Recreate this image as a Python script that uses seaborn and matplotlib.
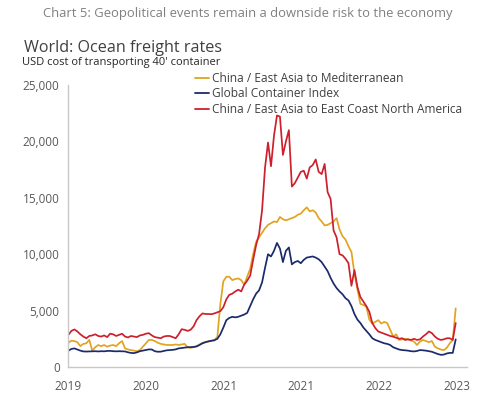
import numpy as np
import pandas as pd
import matplotlib
matplotlib.use("Agg")
import matplotlib.pyplot as plt
import seaborn as sns
from matplotlib.lines import Line2D

# ---- data (biweekly observations, Jan 2019 - Dec 2023) ----
start_date = "2019-01-03"
series_names = ["China / East Asia to Mediterranean",
                "Global Container Index",
                "China / East Asia to East Coast North America"]

mediterranean = [
    2150, 2330, 2300, 2200, 1850, 2050, 2100, 2400, 1450, 1750,
    1950, 1850, 1950, 1800, 1900, 1950, 1850, 2100, 2300, 1650,
    1550, 1500, 1450, 1400, 1500, 1800, 2100, 2400, 2400, 2300,
    2150, 2050, 2000, 1950, 1950, 1950, 2000, 1950, 2000, 2050,
    1750, 1700, 1750, 1850, 2000, 2150, 2200, 2250, 2300, 2350,
    2700, 5600, 7600, 8000, 8000, 7700, 7800, 7850, 7700, 7300,
    8000, 8700, 10000, 11100, 11500, 11900, 12300, 12600, 12750, 12900,
    12850, 13300, 13100, 13000, 13100, 13200, 13300, 13500, 13600, 13900,
    14150, 13800, 13900, 13700, 13200, 12900, 12550, 12600, 12750, 12900,
    13200, 12200, 11600, 11300, 10700, 10200, 8300, 6900, 5600, 5500,
    5350, 4200, 3850, 4000, 4150, 3850, 4000, 3900, 3300, 2700,
    2900, 2400, 2450, 2500, 2450, 2350, 2250, 1950, 2250, 2400,
    2300, 2200, 2300, 1800, 1650, 1550, 1500, 1700, 2100, 2400,
    5200,
]

global_index = [
    1450, 1600, 1650, 1550, 1450, 1380, 1370, 1380, 1390, 1400,
    1380, 1400, 1390, 1420, 1430, 1400, 1390, 1400, 1390, 1380,
    1300, 1250, 1230, 1300, 1400, 1450, 1500, 1560, 1550, 1400,
    1350, 1360, 1420, 1480, 1500, 1520, 1560, 1650, 1680, 1720,
    1750, 1760, 1780, 1820, 1950, 2100, 2200, 2280, 2330, 2380,
    2500, 2900, 3500, 4150, 4350, 4450, 4400, 4450, 4550, 4650,
    4800, 5400, 6000, 6500, 6800, 7500, 8800, 10000, 9800, 10300,
    11000, 10500, 9300, 10300, 10600, 9100, 9300, 9400, 9200, 9500,
    9700, 9750, 9800, 9700, 9550, 9300, 8900, 8500, 7900, 7400,
    7000, 6700, 6450, 6100, 5900, 5400, 4700, 4200, 3900, 3500,
    3200, 2900, 2550, 2400, 2300, 2200, 2100, 2050, 1950, 1750,
    1650, 1550, 1500, 1480, 1450, 1400, 1380, 1420, 1500, 1480,
    1450, 1400, 1350, 1250, 1150, 1080, 1100, 1200, 1250, 1250,
    2450,
]

east_coast_na = [
    2850, 3200, 3330, 3150, 2900, 2700, 2550, 2750, 2800, 2900,
    2750, 2700, 2800, 2650, 2950, 2900, 2750, 2850, 2950, 2700,
    2620, 2750, 2700, 2650, 2800, 2850, 2950, 3000, 2800, 2650,
    2600, 2550, 2700, 2750, 2750, 2650, 2550, 2900, 3350, 3300,
    3200, 3300, 3600, 4150, 4500, 4750, 4700, 4700, 4680, 4750,
    4850, 4950, 5300, 6000, 6400, 6500, 6700, 6850, 6700, 7300,
    7650, 8100, 9500, 10800, 11800, 13900, 17700, 19900, 17800, 20500,
    22300, 22200, 18800, 20000, 21000, 16000, 16300, 16800, 17300, 17400,
    16700, 17700, 17900, 18400, 17300, 17100, 18000, 15500, 14900, 12100,
    11500, 10000, 9900, 9600, 9200, 7200, 8600, 7100, 6200, 5800,
    5400, 4900, 3900, 3450, 3150, 3050, 2950, 2850, 2750, 2690,
    2600, 2500, 2550, 2400, 2450, 2400, 2500, 2400, 2450, 2700,
    2900, 3150, 3000, 2700, 2500, 2400, 2450, 2550, 2550, 2400,
    3900,
]

tick_years = ["2019", "2020", "2021", "2022", "2023", "2024"]
tick_labels = ["2019", "2020", "2021", "2021", "2022", "2023"]

colors = ["#E2A320", "#1B2A6B", "#CE1F2C"]

# ---- build long table ----
dates = pd.date_range(start_date, periods=len(global_index), freq="14D")
frames = []
for name, vals in zip(series_names, [mediterranean, global_index, east_coast_na]):
    frames.append(pd.DataFrame({"date": dates, "value": vals, "series": name}))
df = pd.concat(frames, ignore_index=True)

sns.set_theme(style="white")
plt.rcParams["font.family"] = ["Open Sans", "DejaVu Sans"]

fig = plt.figure(figsize=(4.83, 4.07), dpi=100)
ax = fig.add_axes([68 / 483, 40 / 407, 399 / 483, 282 / 407])

sns.lineplot(data=df, x="date", y="value", hue="series",
             hue_order=series_names, palette=colors, linewidth=1.25, ax=ax,
             legend=False)

ax.set_ylim(0, 25000)
ax.set_xlim(pd.Timestamp("2019-01-01"), pd.Timestamp("2024-02-19"))
yt = [0, 5000, 10000, 15000, 20000, 25000]
ax.set_yticks(yt)
ax.set_yticklabels([f"{v:,}" for v in yt])
ax.set_xticks([pd.Timestamp(f"{y}-01-01") for y in tick_years])
ax.set_xticklabels(tick_labels)
ax.set_xlabel("")
ax.set_ylabel("")

for s in ["top", "right"]:
    ax.spines[s].set_visible(False)
for s in ["left", "bottom"]:
    ax.spines[s].set_color("#c8c8c8")
    ax.spines[s].set_linewidth(1.0)
ax.tick_params(axis="both", colors="#c8c8c8", labelcolor="#595959",
               labelsize=8.5, length=4, width=1.0, direction="out")
ax.tick_params(axis="x", pad=5)
ax.tick_params(axis="y", pad=2)

handles = [Line2D([0], [0], color=c, linewidth=1.3) for c in colors]
leg = fig.legend(handles, series_names, loc="upper left",
                 bbox_to_anchor=(195 / 483, 1 - 72 / 407), frameon=False,
                 handlelength=1.2, handletextpad=0.25, labelspacing=0.2,
                 fontsize=8.6, borderaxespad=0, borderpad=0)
for t in leg.get_texts():
    t.set_color("#404040")

fig.text(248 / 483, 1 - 13 / 407,
         "Chart 5: Geopolitical events remain a downside risk to the economy",
         ha="center", va="center", fontsize=9.4, color="#808080")
fig.text(24 / 483, 1 - 48 / 407, "World: Ocean freight rates",
         ha="left", va="center", fontsize=11.6, color="#404040")
fig.text(22 / 483, 1 - 63 / 407, "USD cost of transporting 40' container",
         ha="left", va="center", fontsize=8.0, color="#262626")

fig.savefig("out.png", dpi=100, facecolor="white")
